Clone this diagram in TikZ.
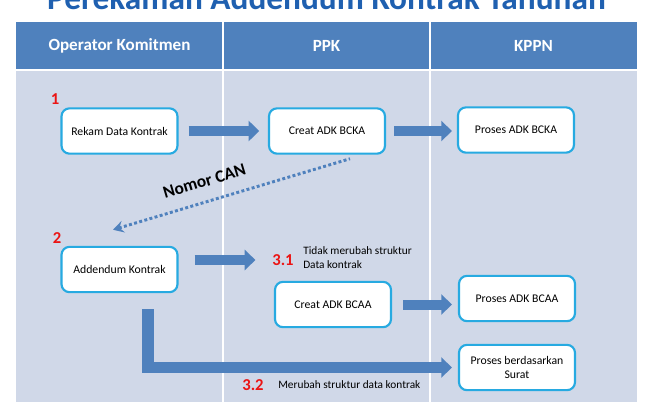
\documentclass[tikz,border=0pt]{standalone}
\usepackage{fontspec}
\setmainfont{Carlito}
\usepackage{tikz}
\usetikzlibrary{positioning,calc}
\usetikzlibrary{arrows.meta}
\definecolor{HeadBlue}{RGB}{79,129,189}
\definecolor{LaneGray}{RGB}{208,216,232}
\definecolor{BoxCyan}{RGB}{39,170,225}
\definecolor{TitleBlue}{RGB}{31,96,176}
\definecolor{NumRed}{RGB}{235,20,20}
\tikzset{
  head/.style={fill=HeadBlue,text=white,inner sep=0pt,minimum width=155.25pt,
    minimum height=36pt,font=\bfseries\fontsize{12.8}{14}\selectfont},
  sep/.style={draw=white,line width=1.5pt},
  box/.style={draw=BoxCyan,line width=1.6pt,fill=white,rounded corners=6pt,
    minimum width=87pt,minimum height=34pt,align=center,font=\fontsize{8.8}{10.5}\selectfont},
  flow/.style={draw=HeadBlue,line width=7.5pt,-{Triangle[width=15pt,length=8pt]}},
  canline/.style={draw=HeadBlue,line width=2.2pt,dash pattern=on 2.2pt off 1.8pt,
    {Stealth[length=8pt,width=9pt,inset=3pt]}-},
  num/.style={text=NumRed,inner sep=0pt,font=\bfseries\fontsize{12.5}{14}\selectfont},
  note/.style={inner sep=0pt,align=left,font=\fontsize{8.5}{10.5}\selectfont},
}

\begin{document}
\begin{tikzpicture}[x=0.75pt,y=-0.75pt]
\useasboundingbox (0,0) rectangle (651,419);
\begin{scope}
\clip (0,0) rectangle (651,419);
\node[anchor=base,text=TitleBlue,font=\bfseries\fontsize{25}{30}\selectfont] (title) at (326.5,9) {Perekaman Addendum Kontrak Tahunan};
\end{scope}
\fill[LaneGray] (16,70) rectangle (637,402);
\coordinate (bot) at (0,402);
\node[head] (hop) at (119.5,46) {Operator Komitmen};
\node[head] (hppk) at (326.5,46) {PPK};
\node[head] (hkppn) at (533.5,46) {KPPN};
\draw[sep] (hop.south west) -- (hkppn.south east);
\draw[sep] (hop.north east) -- (hop.north east |- bot);
\draw[sep] (hppk.north east) -- (hppk.north east |- bot);

\node[box] (rekam) at (119.5,131) {Rekam Data Kontrak};
\node[box] (bcka) at (327,131) {Creat ADK BCKA};
\node[box] (pbcka) at (516,130) {Proses ADK BCKA};
\node[box] (addendum) at (119.5,269.5) {Addendum Kontrak};
\node[box] (bcaa) at (333,304.5) {Creat ADK BCAA};
\node[box] (pbcaa) at (517,298.5) {Proses ADK BCAA};
\node[box] (surat) at (517,367.5) {Proses berdasarkan\\Surat};

\node[num] (n1) at (55,99) {1};
\node[num] (n2) at (57,238) {2};
\node[num] (n31) at (283,260) {3.1};
\node[num] (n32) at (253,385) {3.2};
\node[note,anchor=west] (t31) at (303,258) {Tidak merubah struktur\\Data kontrak};
\node[note,anchor=west] (t32) at (278,385) {Merubah struktur data kontrak};

\draw[flow,shorten <=7.5pt,shorten >=6.5pt] (rekam) -- (bcka);
\draw[flow,shorten <=6pt,shorten >=3.75pt] (bcka.east) -- (bcka.east -| pbcka.west);
\draw[flow,shorten <=12pt,shorten >=12.5pt] (addendum.east |- n31) -- (n31.west);
\draw[flow,shorten <=8.25pt,shorten >=4.5pt] (bcaa.east) -- (bcaa.east -| pbcaa.west);
\draw[flow,line width=8.5pt,shorten <=12pt,shorten >=4.5pt] ($(addendum.south)+(28.5,0)$) |- (surat.west);
\draw[canline] ($(addendum.north)+(-6.5,-16)$) -- node[sloped,pos=.41,above=6.5pt,font=\bfseries\fontsize{13}{15}\selectfont] (can) {Nomor CAN} ($(bcka.south)+(23,4)$);
\end{tikzpicture}
\end{document}
